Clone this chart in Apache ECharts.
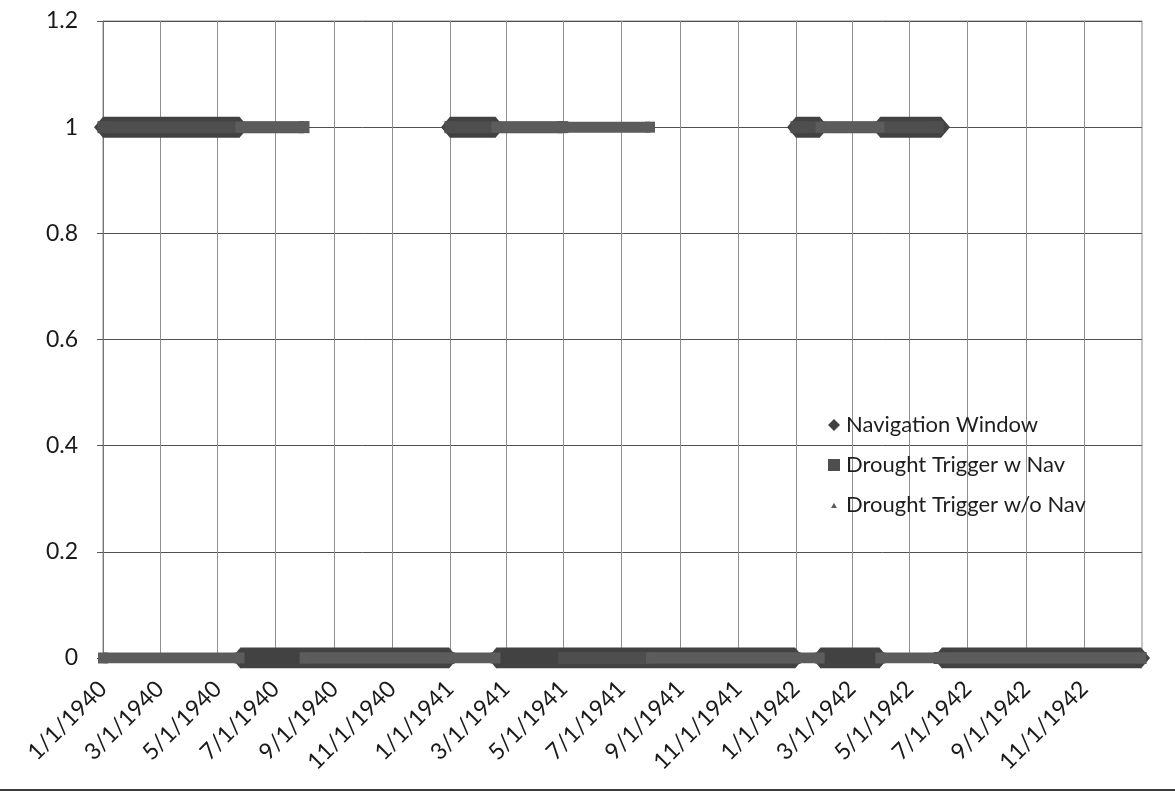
<!DOCTYPE html>
<html>
<head>
<meta charset="utf-8">
<script src="https://cdn.jsdelivr.net/npm/echarts@6/dist/echarts.min.js"></script>
<style>
  html, body { margin: 0; padding: 0; background: #fff; }
  #chart { width: 1175px; height: 794px; }
</style>
</head>
<body>
<div id="chart"></div>
<script>
// ---- Data ----
// Daily 0/1 values, stored as runs: [first day, last day, value]
const navigationWindow = [
  ['1940-01-01', '1940-05-24', 1],
  ['1940-05-25', '1940-12-31', 0],
  ['1941-01-01', '1941-02-18', 1],
  ['1941-02-19', '1941-12-31', 0],
  ['1942-01-01', '1942-01-26', 1],
  ['1942-01-27', '1942-03-30', 0],
  ['1942-03-31', '1942-06-03', 1],
  ['1942-06-04', '1942-12-31', 0]
];
const droughtTriggerWNav = [
  ['1940-01-01', '1940-07-31', 1],
  ['1940-08-01', '1940-12-31', 0],
  ['1941-01-01', '1941-04-30', 1],
  ['1941-05-01', '1941-12-31', 0],
  ['1942-01-01', '1942-05-31', 1],
  ['1942-06-01', '1942-12-31', 0]
];
const droughtTriggerWoNav = [
  ['1940-01-01', '1940-05-24', 0],
  ['1940-05-25', '1940-07-31', 1],
  ['1940-08-01', '1941-02-18', 0],
  ['1941-02-19', '1941-07-31', 1],
  ['1941-08-01', '1942-01-26', 0],
  ['1942-01-27', '1942-03-30', 1],
  ['1942-03-31', '1942-12-31', 0]
];
const seriesNames = ['Navigation Window', 'Drought Trigger w Nav', 'Drought Trigger w/o Nav'];
const xTickLabels = ['1/1/1940','3/1/1940','5/1/1940','7/1/1940','9/1/1940','11/1/1940',
                     '1/1/1941','3/1/1941','5/1/1941','7/1/1941','9/1/1941','11/1/1941',
                     '1/1/1942','3/1/1942','5/1/1942','7/1/1942','9/1/1942','11/1/1942'];
const xMin = '1940-01-01';
const xMax = '1943-01-01';
const yTickLabels = ['0', '0.2', '0.4', '0.6', '0.8', '1', '1.2'];

// ---- helpers ----
function parseMDY(s) {
  const p = s.split('/').map(Number);
  return Date.UTC(p[2], p[0] - 1, p[1]);
}
function parseISO(s) {
  const p = s.split('-').map(Number);
  return Date.UTC(p[0], p[1] - 1, p[2]);
}
const tickValues = xTickLabels.map(parseMDY);
function runsToData(runs) {
  const out = [];
  runs.forEach(r => {
    out.push([parseISO(r[0]), r[2]]);
    out.push([parseISO(r[1]), r[2]]);
    out.push([parseISO(r[1]), '-']);
  });
  return out;
}

const FONT = 'Lato, "Open Sans", sans-serif';
const BAND = '#424242';
// small triangle icon inside a larger invisible box (legend)
const SMALL_TRI = 'path://M0,0L0.01,0.01M10,10L10.01,10.01M5,3.2L7.4,7.6L2.6,7.6Z';

const chart = echarts.init(document.getElementById('chart'), null, { renderer: 'canvas' });
chart.setOption({
  backgroundColor: '#ffffff',
  animation: false,
  grid: { left: 103, right: 33, top: 21, bottom: 136, show: true, borderColor: '#8a8a8a', borderWidth: 1, backgroundColor: 'transparent' },
  legend: {
    orient: 'vertical',
    left: 823,
    top: 409,
    itemGap: 18,
    itemWidth: 12,
    itemHeight: 12,
    textStyle: { fontFamily: FONT, fontSize: 22, color: '#1e1e1e', padding: [0, 0, 0, 1] },
    data: [
      { name: seriesNames[0], icon: 'diamond' },
      { name: seriesNames[1], icon: 'rect' },
      { name: seriesNames[2], icon: SMALL_TRI }
    ]
  },
  xAxis: {
    type: 'value',
    min: parseISO(xMin),
    max: parseISO(xMax),
    axisLine: { show: true, lineStyle: { color: '#777', width: 1 } },
    axisTick: { show: false, customValues: tickValues },
    splitLine: { show: true, lineStyle: { color: '#8f8f8f', width: 1 } },
    axisLabel: {
      customValues: tickValues,
      rotate: 45,
      margin: 27,
      hideOverlap: false,
      fontFamily: FONT,
      fontSize: 23,
      color: '#1a1a1a',
      formatter: function (val) {
        const i = tickValues.indexOf(val);
        return i >= 0 ? xTickLabels[i] : '';
      }
    }
  },
  yAxis: {
    type: 'value',
    min: 0,
    max: 1.2,
    interval: 0.2,
    axisLine: { show: true, lineStyle: { color: '#777' } },
    axisTick: { show: true, length: 6, lineStyle: { color: '#555' } },
    splitLine: { show: true, lineStyle: { color: '#505050', width: 1 } },
    axisLabel: {
      margin: 25,
      fontFamily: FONT,
      fontSize: 23,
      color: '#1a1a1a',
      formatter: function (v) { return yTickLabels[Math.round(v / 0.2)]; }
    }
  },
  series: [
    {
      name: seriesNames[0], type: 'line', data: runsToData(navigationWindow),
      symbol: 'diamond', symbolSize: [18, 21], showSymbol: true, connectNulls: false,
      color: BAND,
      itemStyle: { color: BAND },
      lineStyle: { color: BAND, width: 21, cap: 'butt' },
      z: 2
    },
    {
      name: seriesNames[1], type: 'line', data: runsToData(droughtTriggerWNav),
      symbol: 'rect', symbolSize: [11, 12], showSymbol: true, connectNulls: false,
      color: '#4e4e4e',
      itemStyle: { color: '#4e4e4e' },
      lineStyle: { color: '#4e4e4e', width: 12, cap: 'butt' },
      z: 3
    },
    {
      name: seriesNames[2], type: 'line', data: runsToData(droughtTriggerWoNav),
      symbol: 'rect', symbolSize: [10, 11], showSymbol: true, connectNulls: false,
      color: '#5c5c5c',
      itemStyle: { color: '#5c5c5c' },
      lineStyle: { color: '#5c5c5c', width: 11, cap: 'butt' },
      z: 4
    }
  ],
  graphic: [
    { type: 'rect', left: 0, top: 789, shape: { width: 1175, height: 2 }, style: { fill: '#3a3a3a' }, silent: true }
  ]
});
</script>
</body>
</html>
